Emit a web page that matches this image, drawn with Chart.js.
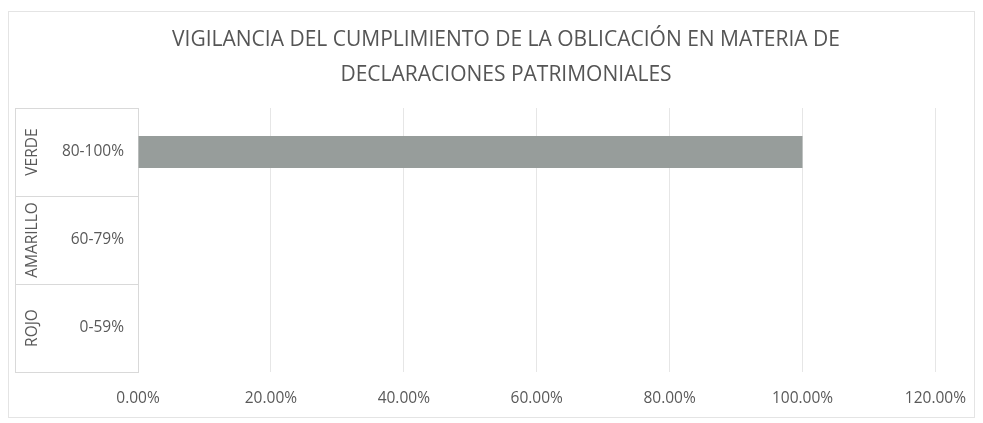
<!DOCTYPE html>
<html lang="es">
<head>
<meta charset="utf-8">
<title>Vigilancia del cumplimiento</title>
<script src="https://cdn.jsdelivr.net/npm/chart.js@4.4.0/dist/chart.umd.min.js"></script>
<style>
  html, body { margin: 0; padding: 0; background: #fff; }
  #wrap { position: relative; width: 983px; height: 423px; }
</style>
</head>
<body>
<div id="wrap"><canvas id="chart"></canvas></div>
<script>
const titleLines = [
  "VIGILANCIA DEL CUMPLIMIENTO DE LA OBLICACIÓN EN MATERIA DE",
  "DECLARACIONES PATRIMONIALES"
];
const groups = ["VERDE", "AMARILLO", "ROJO"];
const ranges = ["80-100%", "60-79%", "0-59%"];
const compliance = [1, 0, 0];
const xMin = 0;
const xMax = 1.2;
const xStep = 0.2;

const textColor = "#595959";
const fontFamily = "'Open Sans', 'Liberation Sans', sans-serif";

// frame, title (centred on the whole frame, like Excel) and the
// two-level category labels with their separators
const excelDecor = {
  id: "excelDecor",
  beforeDraw(chart) {
    const { ctx } = chart;
    ctx.save();
    ctx.strokeStyle = "#e4e4e4";
    ctx.lineWidth = 1;
    ctx.strokeRect(8.5, 11.5, 966, 406);

    ctx.fillStyle = "#555";
    ctx.font = "21px " + fontFamily;
    ctx.textAlign = "center";
    ctx.textBaseline = "middle";
    ctx.fillText(titleLines[0], 506, 40);
    ctx.fillText(titleLines[1], 506, 75);
    ctx.restore();
  },
  afterDraw(chart) {
    const { ctx, chartArea } = chart;
    const y = chart.scales.y;
    const left = 15;
    const right = chartArea.left;
    ctx.save();
    ctx.strokeStyle = "#d9d9d9";
    ctx.lineWidth = 1;
    ctx.beginPath();
    ctx.moveTo(left + 0.5, chartArea.top);
    ctx.lineTo(left + 0.5, chartArea.bottom);
    for (let i = 0; i <= groups.length; i++) {
      let py;
      if (i === 0) py = chartArea.top;
      else if (i === groups.length) py = chartArea.bottom;
      else py = (y.getPixelForValue(i - 1) + y.getPixelForValue(i)) / 2;
      py = Math.round(py) + 0.5;
      ctx.moveTo(left, py);
      ctx.lineTo(right, py);
    }
    ctx.stroke();

    ctx.fillStyle = textColor;
    ctx.font = "15.5px " + fontFamily;
    ctx.textAlign = "center";
    ctx.textBaseline = "middle";
    groups.forEach((name, i) => {
      ctx.save();
      ctx.translate(33, y.getPixelForValue(i));
      ctx.rotate(-Math.PI / 2);
      ctx.fillText(name, 0, 0);
      ctx.restore();
    });
    ctx.restore();
  }
};

new Chart(document.getElementById("chart"), {
  type: "bar",
  data: {
    labels: ranges,
    datasets: [{
      label: "Cumplimiento",
      data: compliance,
      backgroundColor: "#979d9b",
      borderWidth: 0,
      barPercentage: 1,
      categoryPercentage: 0.364
    }]
  },
  options: {
    indexAxis: "y",
    responsive: true,
    maintainAspectRatio: false,
    animation: false,
    layout: { padding: { left: 0, right: 41, top: 108, bottom: 0 } },
    plugins: {
      legend: { display: false },
      tooltip: { enabled: false },
      title: { display: false }
    },
    scales: {
      x: {
        min: xMin,
        max: xMax,
        grid: { color: "#e6e6e6", drawTicks: false },
        border: { display: false },
        ticks: {
          stepSize: xStep,
          color: textColor,
          padding: 17,
          maxRotation: 0,
          font: { family: fontFamily, size: 15.5 },
          callback: value => (value * 100).toFixed(2) + "%"
        },
        afterFit: scale => { scale.height = 51; }
      },
      y: {
        grid: { display: false, drawTicks: false },
        border: { display: true, color: "#d9d9d9" },
        ticks: {
          color: textColor,
          padding: 14,
          font: { family: fontFamily, size: 15.5 }
        },
        afterFit: scale => { scale.width = 138; }
      }
    }
  },
  plugins: [excelDecor]
});
</script>
</body>
</html>
